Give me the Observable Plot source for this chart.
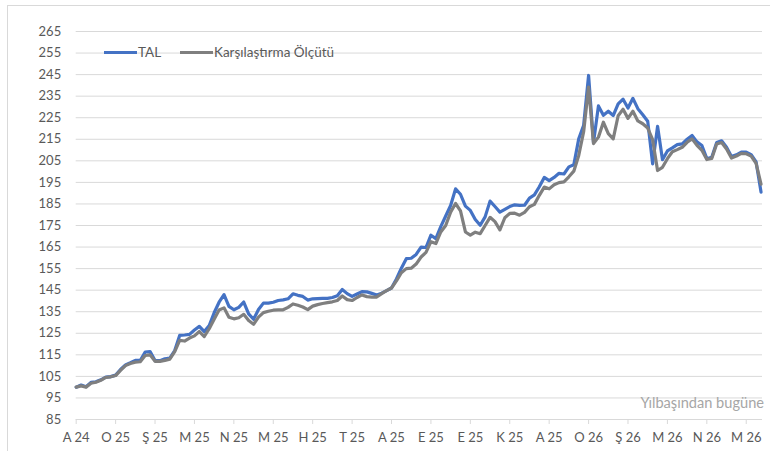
<!DOCTYPE html>
<html><head><meta charset="utf-8">
<script src="https://cdn.jsdelivr.net/npm/d3@7"></script>
<script src="https://cdn.jsdelivr.net/npm/@observablehq/plot@0.6"></script>
<style>
body{margin:0;background:#fff;overflow:hidden;font-family:Lato,"Open Sans",sans-serif;}
#wrap{position:relative;width:770px;height:451px;overflow:hidden;}
#frame{position:absolute;left:7px;top:5px;width:800px;height:480px;border:1px solid #d9d9d9;box-sizing:border-box;}
#chart{position:absolute;left:0;top:0;}
.leg{position:absolute;top:43px;font-size:13.5px;color:#595959;display:flex;align-items:center;height:18px;}
.sw{display:inline-block;width:33px;height:3px;margin-right:1px;}
#caption{position:absolute;right:6px;top:394px;font-size:14.6px;color:#a6a6a6;}
</style></head>
<body>
<div id="wrap">
  <div id="frame"></div>
  <div id="chart"></div>
  <div class="leg" style="left:104px"><span class="sw" style="background:#4472C4"></span><span id="l1"></span></div>
  <div class="leg" style="left:180px"><span class="sw" style="background:#7f7f7f"></span><span id="l2"></span></div>
  <div id="caption"></div>
</div>
<script>
const seriesNames = ["TAL", "Karşılaştırma Ölçütü"];
const captionText = "Yılbaşından bugüne";
const xTickLabels = ["A 24","O 25","Ş 25","M 25","N 25","M 25","H 25","T 25","A 25","E 25","E 25","K 25","A 25","O 26","Ş 26","M 26","N 26","M 26"];
const yTicks = [85,95,105,115,125,135,145,155,165,175,185,195,205,215,225,235,245,255,265];
const tal = [
 100,101,100.2,102.2,102.5,103.4,104.7,104.9,105.6,108.2,
 110.3,111.3,112.4,112.4,116.3,116.5,112.4,112.3,113.2,113.5,
 117,124,124.2,124.5,126.5,128.2,125.8,128.6,134.5,139.4,
 142.9,137.5,135.9,137,139.5,134,131.5,136,139,139,
 139.4,140.2,140.5,141,143.3,142.6,142.1,140.4,141,141.1,
 141.2,141.2,141.6,142.4,145.3,143.4,142.1,143.2,144.3,144.2,
 143.5,142.8,143.6,144.8,146,150.2,155.2,159.6,159.8,161.6,
 165,164.8,170.5,168.9,174.5,179.4,184.3,192,189.5,184,
 182,177.8,175.1,179,186.3,183.8,181.2,182.5,183.8,184.6,
 184.3,184.4,187.7,189.2,193,197.3,195.8,197.3,199.2,198.9,
 202.2,203.2,215.2,221.5,244.6,213.5,230.5,226.1,228,226,
 231.4,233.6,229.5,234,229.2,226.4,223.4,203.6,221,205.5,
 209.6,211,212.5,212.9,215,216.8,213.8,212.1,206,206.7,
 213.5,214.3,211.3,207,207.8,209,209,207.9,204.5,190.5
];
const bench = [
 100,100.6,100,101.8,102.3,103.2,104.5,104.8,105.4,107.8,
 110,111,111.6,111.8,114.7,115,112,112,112.4,113,
 116.5,121.7,121.4,122.8,123.8,125.8,123.5,127.1,131.5,135.8,
 136.8,132.4,131.7,132.2,133.8,130.9,129.2,132.5,134.6,135.2,
 135.7,135.9,135.9,137,138.6,138,137.2,136,137.6,138.3,
 138.8,139.2,139.6,140.2,142.3,140.6,140.2,141.6,142.8,142,
 141.8,141.8,143.4,144.8,146,149.3,153.1,155,155.2,157.1,
 160.4,162.5,167.5,166.6,172,175,181.2,185.2,181.8,172,
 170.5,171.9,171.2,175,178.8,176.8,173,178.6,180.6,180.7,
 179.8,181.1,183.7,184.8,189,192.8,192,193.9,194.9,195.2,
 197.6,200.2,207.5,218.5,239.2,213,216,222.9,217.6,215.2,
 225.9,228.9,224.7,228,223.5,222.2,220.2,214.8,200.5,202,
 206,209.2,210.2,211.3,213.6,215.2,212.2,209.9,205.6,206.1,
 212.8,213.5,210.5,206.3,207.2,208.5,208.3,207.2,203.8,194.2
];
const tickStep = 8;
const xTicks = xTickLabels.map((_, i) => i * tickStep);

document.getElementById("l1").textContent = seriesNames[0];
document.getElementById("l2").textContent = seriesNames[1];
document.getElementById("caption").textContent = captionText;

const chart = Plot.plot({
  width: 770, height: 451,
  marginLeft: 75.7, marginRight: 8, marginTop: 31, marginBottom: 32,
  style: {fontFamily: "Lato, 'Open Sans', sans-serif", fontSize: "13px", background: "transparent", overflow: "visible"},
  x: {domain: [0, 139.3]},
  y: {domain: [85, 265]},
  marks: [
    Plot.gridY(yTicks, {stroke: "#d9d9d9", strokeOpacity: 1, strokeWidth: 1}),
    Plot.axisX({ticks: xTicks, tickFormat: d => xTickLabels[d / tickStep], tickSize: 5, tickPadding: 8, stroke: "#d9d9d9", fill: "#595959", label: null}),
    Plot.axisY({ticks: yTicks, tickSize: 0, tickPadding: 15, fill: "#595959", label: null}),
    Plot.line(tal, {x: (d, i) => i, y: d => d, stroke: "#4472C4", strokeWidth: 3.2, strokeLinejoin: "round", strokeLinecap: "round"}),
    Plot.line(bench, {x: (d, i) => i, y: d => d, stroke: "#7f7f7f", strokeWidth: 3.2, strokeLinejoin: "round", strokeLinecap: "round"})
  ]
});
document.getElementById("chart").appendChild(chart);
</script>
</body></html>
